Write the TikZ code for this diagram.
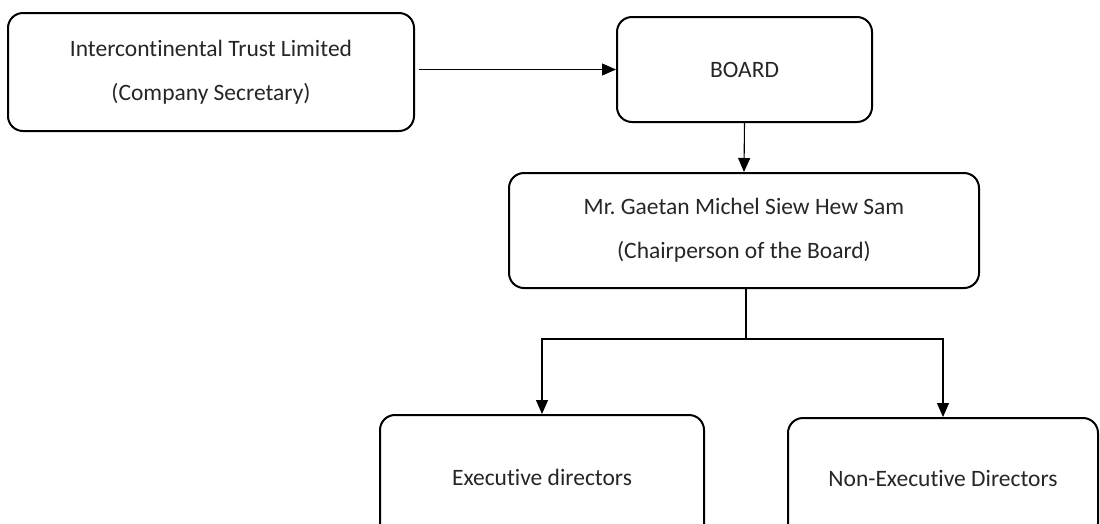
\documentclass[tikz,border=0pt]{standalone}
\usepackage{fontspec}
\setmainfont{Carlito}[Ligatures={NoCommon}]
\usepackage{tikz}
\usetikzlibrary{arrows.meta}
\frenchspacing

\begin{document}
\begin{tikzpicture}[x=1pt,y=-1pt,>={Triangle[length=14pt,width=12pt]},
  orgbox/.style={draw,line width=2pt,rounded corners=15pt,align=center,
    font=\fontsize{23.5}{44}\selectfont,inner sep=0pt,text=black!85},
  link/.style={line width=1.1pt}]
\useasboundingbox (0,0) rectangle (1100,523);
%%%BOXES
\node[orgbox,minimum width=406pt,minimum height=118pt] (itl) at (211,72)
  {Intercontinental Trust Limited\\(Company Secretary)};
\node[orgbox,minimum width=255pt,minimum height=105pt] (board) at (744.5,69.5) {BOARD};
\node[orgbox,minimum width=470pt,minimum height=115pt] (chair) at (744,230.5)
  {Mr. Gaetan Michel Siew Hew Sam\\(Chairperson of the Board)};
\node[orgbox,minimum width=324pt,minimum height=124pt] (exec) at (542,477) {Executive directors};
\node[orgbox,minimum width=310pt,minimum height=120pt] (nonexec) at (943,478) {Non-Executive Directors};
%%%LINKS
\coordinate (split) at (746,339);
\draw[->,link] (itl.east |- board.west) ++(4,0) -- (board.west);
\draw[->,link] (board.south) -- (chair.north);
\draw[link] (chair.south -| split) -- (split);
\draw[->,link] (split) -| (exec.north);
\draw[->,link] (split) -| (nonexec.north);
\end{tikzpicture}
\end{document}
